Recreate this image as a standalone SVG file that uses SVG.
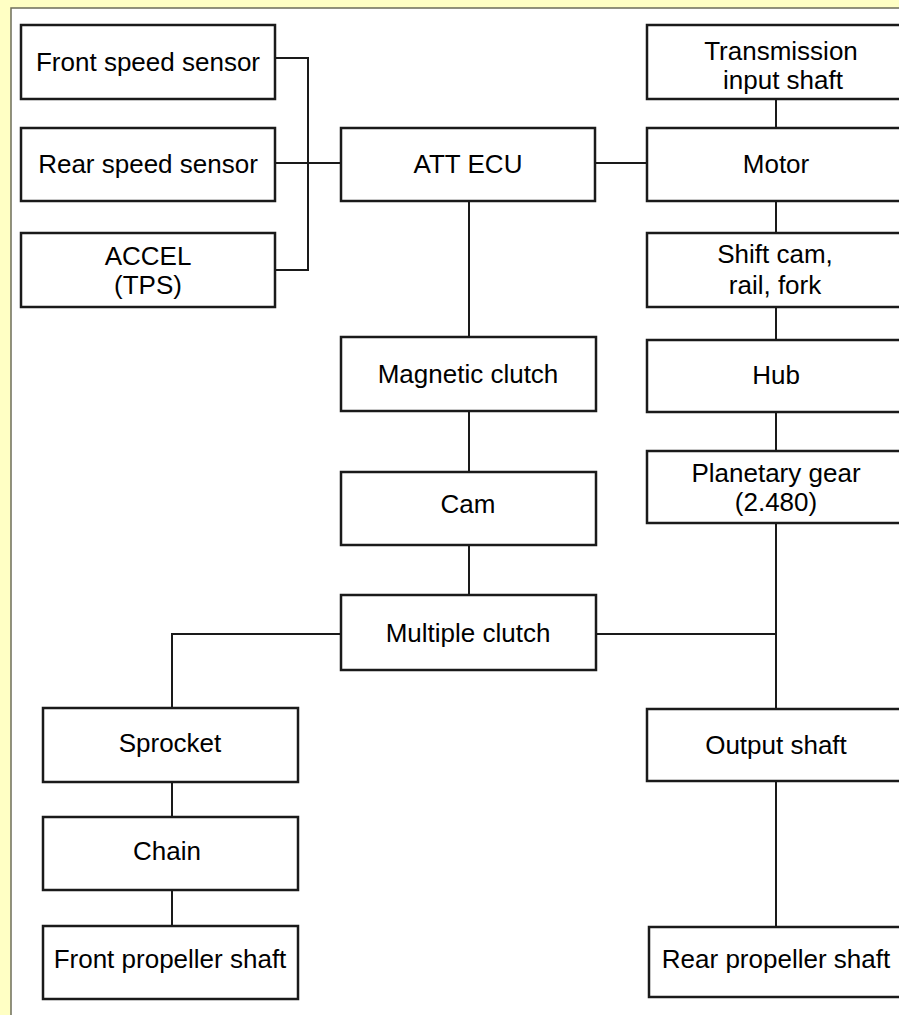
<svg xmlns="http://www.w3.org/2000/svg" width="899" height="1015" viewBox="0 0 899 1015">
  <style>
    .box { fill: #ffffff; stroke: #1a1a1a; stroke-width: 2.5; }
    .wire { fill: none; stroke: #1a1a1a; stroke-width: 2; }
    .lbl { font-family: "Liberation Sans", Arial, Helvetica, sans-serif; font-size: 26px; fill: #000000; text-anchor: middle; }
  </style>

  <!-- page background and white drawing panel -->
  <rect x="0" y="0" width="899" height="1015" fill="#ffffc4"/>
  <rect x="11" y="8" width="900" height="1020" fill="#ffffff" stroke="#6e6e5a" stroke-width="1.5"/>

  <!-- connectors -->
  <g id="connectors" class="wire">
    <!-- sensor bus into the ECU -->
    <polyline points="275,58 308,58 308,270 275,270"/>
    <line x1="275" y1="163" x2="341" y2="163"/>
    <!-- ECU to motor -->
    <line x1="595" y1="163" x2="647" y2="163"/>
    <!-- right-hand drive train -->
    <line x1="776" y1="99" x2="776" y2="128"/>
    <line x1="776" y1="201" x2="776" y2="233"/>
    <line x1="776" y1="307" x2="776" y2="340"/>
    <line x1="776" y1="412" x2="776" y2="451"/>
    <line x1="776" y1="523" x2="776" y2="709"/>
    <line x1="776" y1="781" x2="776" y2="927"/>
    <!-- center column -->
    <line x1="469" y1="201" x2="469" y2="337"/>
    <line x1="469" y1="411" x2="469" y2="472"/>
    <line x1="469" y1="545" x2="469" y2="595"/>
    <!-- multiple clutch branches -->
    <line x1="596" y1="634" x2="776" y2="634"/>
    <polyline points="341,634 172,634 172,708"/>
    <!-- left-hand drive train -->
    <line x1="172" y1="782" x2="172" y2="817"/>
    <line x1="172" y1="890" x2="172" y2="926"/>
  </g>

  <!-- sensors -->
  <g id="front-speed-sensor">
    <rect class="box" x="21" y="25" width="254" height="74"/>
    <text class="lbl" x="148" y="71">Front speed sensor</text>
  </g>
  <g id="rear-speed-sensor">
    <rect class="box" x="21" y="128" width="254" height="73"/>
    <text class="lbl" x="148" y="173">Rear speed sensor</text>
  </g>
  <g id="accel-tps">
    <rect class="box" x="21" y="233" width="254" height="74"/>
    <text class="lbl" x="148" y="265">ACCEL</text>
    <text class="lbl" x="148" y="294">(TPS)</text>
  </g>

  <!-- control unit and center column -->
  <g id="att-ecu">
    <rect class="box" x="341" y="128" width="254" height="73"/>
    <text class="lbl" x="468" y="173">ATT ECU</text>
  </g>
  <g id="magnetic-clutch">
    <rect class="box" x="341" y="337" width="255" height="74"/>
    <text class="lbl" x="468" y="383">Magnetic clutch</text>
  </g>
  <g id="cam">
    <rect class="box" x="341" y="472" width="255" height="73"/>
    <text class="lbl" x="468" y="513">Cam</text>
  </g>
  <g id="multiple-clutch">
    <rect class="box" x="341" y="595" width="255" height="75"/>
    <text class="lbl" x="468" y="642">Multiple clutch</text>
  </g>

  <!-- right column -->
  <g id="transmission-input-shaft">
    <rect class="box" x="647" y="25" width="260" height="74"/>
    <text class="lbl" x="781" y="60">Transmission</text>
    <text class="lbl" x="783" y="89">input shaft</text>
  </g>
  <g id="motor">
    <rect class="box" x="647" y="128" width="260" height="73"/>
    <text class="lbl" x="776" y="173">Motor</text>
  </g>
  <g id="shift-cam">
    <rect class="box" x="647" y="233" width="260" height="74"/>
    <text class="lbl" x="775" y="263">Shift cam,</text>
    <text class="lbl" x="775" y="294">rail, fork</text>
  </g>
  <g id="hub">
    <rect class="box" x="647" y="340" width="260" height="72"/>
    <text class="lbl" x="776" y="384">Hub</text>
  </g>
  <g id="planetary-gear">
    <rect class="box" x="647" y="451" width="260" height="72"/>
    <text class="lbl" x="776" y="482">Planetary gear</text>
    <text class="lbl" x="776" y="511">(2.480)</text>
  </g>
  <g id="output-shaft">
    <rect class="box" x="647" y="709" width="260" height="72"/>
    <text class="lbl" x="776" y="754">Output shaft</text>
  </g>
  <g id="rear-propeller-shaft">
    <rect class="box" x="649" y="927" width="260" height="70"/>
    <text class="lbl" x="776" y="968">Rear propeller shaft</text>
  </g>

  <!-- left column -->
  <g id="sprocket">
    <rect class="box" x="43" y="708" width="255" height="74"/>
    <text class="lbl" x="170" y="752">Sprocket</text>
  </g>
  <g id="chain">
    <rect class="box" x="43" y="817" width="255" height="73"/>
    <text class="lbl" x="167" y="860">Chain</text>
  </g>
  <g id="front-propeller-shaft">
    <rect class="box" x="43" y="926" width="255" height="73"/>
    <text class="lbl" x="170" y="968">Front propeller shaft</text>
  </g>
</svg>
